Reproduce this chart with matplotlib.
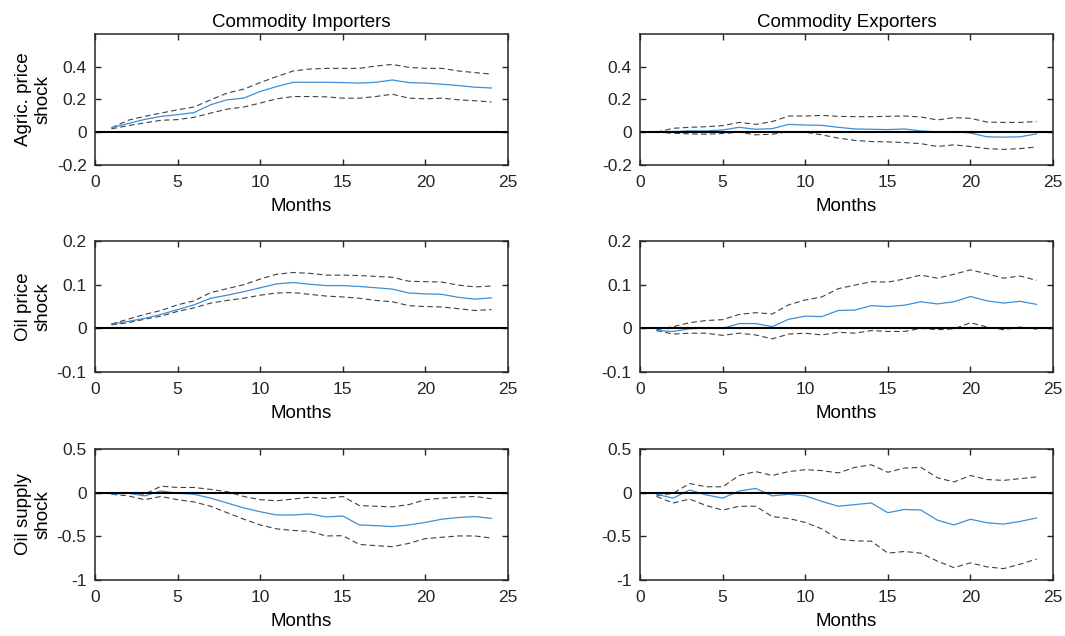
import numpy as np
import matplotlib
matplotlib.use("Agg")
from matplotlib import pyplot as plt

plt.rcParams['font.family'] = ['Liberation Sans', 'DejaVu Sans']

months = np.arange(1, 25)

# agric price shock - importers
agr_imp_med = [0.027, 0.053, 0.078, 0.097, 0.107, 0.12, 0.168, 0.198, 0.208, 0.249, 0.279, 0.305,
               0.305, 0.305, 0.303, 0.30, 0.305, 0.319, 0.303, 0.30, 0.293, 0.285, 0.275, 0.27]
agr_imp_hi = [0.027, 0.073, 0.097, 0.117, 0.137, 0.154, 0.198, 0.239, 0.263, 0.303, 0.34, 0.374,
              0.386, 0.39, 0.39, 0.39, 0.404, 0.414, 0.396, 0.39, 0.39, 0.374, 0.364, 0.355]
agr_imp_lo = [0.021, 0.04, 0.057, 0.073, 0.077, 0.091, 0.117, 0.141, 0.154, 0.178, 0.204, 0.218,
              0.218, 0.216, 0.208, 0.208, 0.218, 0.232, 0.208, 0.204, 0.208, 0.198, 0.192, 0.185]

# agric price shock - exporters
agr_exp_med = [0.004, 0.004, 0.008, 0.008, 0.014, 0.03, 0.018, 0.022, 0.048, 0.044, 0.042, 0.03,
               0.02, 0.018, 0.016, 0.02, 0.008, 0.002, 0.004, -0.005, -0.028, -0.03, -0.028, -0.01]
agr_exp_hi = [0.0, 0.024, 0.03, 0.034, 0.04, 0.06, 0.048, 0.065, 0.099, 0.099, 0.103, 0.097,
              0.095, 0.095, 0.097, 0.099, 0.093, 0.075, 0.089, 0.085, 0.062, 0.06, 0.06, 0.065]
agr_exp_lo = [0.0, -0.006, -0.01, -0.012, -0.008, 0.0, -0.016, -0.012, 0.004, 0.0, -0.016, -0.036,
              -0.05, -0.057, -0.059, -0.063, -0.07, -0.087, -0.077, -0.087, -0.1, -0.105, -0.1, -0.09]

# oil price shock - importers
oil_imp_med = [0.0096, 0.016, 0.023, 0.032, 0.043, 0.054, 0.069, 0.076, 0.084, 0.093, 0.102, 0.105,
               0.101, 0.098, 0.098, 0.096, 0.093, 0.09, 0.081, 0.079, 0.078, 0.071, 0.067, 0.07]
oil_imp_hi = [0.01, 0.021, 0.032, 0.041, 0.054, 0.063, 0.082, 0.091, 0.10, 0.113, 0.124, 0.128,
              0.126, 0.122, 0.122, 0.121, 0.119, 0.117, 0.108, 0.107, 0.106, 0.099, 0.095, 0.097]
oil_imp_lo = [0.008, 0.013, 0.021, 0.028, 0.039, 0.047, 0.058, 0.064, 0.069, 0.076, 0.081, 0.082,
              0.078, 0.074, 0.072, 0.069, 0.064, 0.061, 0.052, 0.05, 0.049, 0.045, 0.041, 0.043]

# oil price shock - exporters
oil_exp_med = [-0.005, -0.007, -0.001, 0.001, 0.0, 0.011, 0.011, 0.004, 0.021, 0.028, 0.027, 0.041,
               0.042, 0.052, 0.05, 0.053, 0.061, 0.056, 0.061, 0.073, 0.063, 0.058, 0.062, 0.055]
oil_exp_hi = [-0.003, 0.004, 0.013, 0.018, 0.02, 0.032, 0.036, 0.033, 0.054, 0.065, 0.072, 0.091,
              0.099, 0.107, 0.106, 0.113, 0.122, 0.115, 0.124, 0.134, 0.125, 0.115, 0.12, 0.11]
oil_exp_lo = [-0.005, -0.013, -0.011, -0.011, -0.016, -0.011, -0.015, -0.024, -0.013, -0.011, -0.015, -0.009,
              -0.011, -0.005, -0.007, -0.007, 0.0, -0.003, -0.001, 0.013, 0.003, -0.003, 0.003, -0.002]

# oil supply shock - importers
sup_imp_med = [-0.019, -0.007, -0.037, 0.019, -0.007, -0.019, -0.063, -0.119, -0.174, -0.219, -0.256, -0.256,
               -0.244, -0.278, -0.267, -0.37, -0.378, -0.389, -0.37, -0.341, -0.304, -0.285, -0.274, -0.295]
sup_imp_hi = [-0.019, 0.0, -0.019, 0.074, 0.059, 0.059, 0.037, 0.011, -0.044, -0.081, -0.093, -0.074,
              -0.052, -0.067, -0.044, -0.148, -0.156, -0.163, -0.137, -0.081, -0.063, -0.052, -0.044, -0.07]
sup_imp_lo = [-0.019, -0.037, -0.081, -0.044, -0.081, -0.107, -0.156, -0.23, -0.304, -0.37, -0.415, -0.433,
              -0.444, -0.496, -0.493, -0.593, -0.607, -0.619, -0.581, -0.526, -0.511, -0.496, -0.496, -0.52]

# oil supply shock - exporters
sup_exp_med = [-0.019, -0.063, 0.03, -0.026, -0.063, 0.019, 0.048, -0.037, -0.019, -0.037, -0.1, -0.156,
               -0.137, -0.119, -0.23, -0.193, -0.2, -0.315, -0.37, -0.305, -0.345, -0.36, -0.33, -0.29]
sup_exp_hi = [-0.037, -0.007, 0.104, 0.067, 0.067, 0.196, 0.241, 0.196, 0.241, 0.263, 0.252, 0.226,
              0.289, 0.319, 0.233, 0.281, 0.289, 0.17, 0.122, 0.196, 0.15, 0.14, 0.16, 0.18]
sup_exp_lo = [-0.044, -0.119, -0.074, -0.148, -0.2, -0.156, -0.156, -0.274, -0.296, -0.341, -0.415, -0.533,
              -0.552, -0.556, -0.693, -0.674, -0.693, -0.785, -0.859, -0.804, -0.85, -0.87, -0.82, -0.76]

col_titles = ["Commodity Importers", "Commodity Exporters"]
row_labels = ["Agric. price\nshock", "Oil price\nshock", "Oil supply\nshock"]
row_ylims = [(-0.2, 0.6), (-0.1, 0.2), (-1, 0.5)]
row_yticks = [[-0.2, 0, 0.2, 0.4], [-0.1, 0, 0.1, 0.2], [-1, -0.5, 0, 0.5]]
row_yticklabels = [["-0.2", "0", "0.2", "0.4"], ["-0.1", "0", "0.1", "0.2"], ["-1", "-0.5", "0", "0.5"]]

panels = [
    [(agr_imp_med, agr_imp_hi, agr_imp_lo), (agr_exp_med, agr_exp_hi, agr_exp_lo)],
    [(oil_imp_med, oil_imp_hi, oil_imp_lo), (oil_exp_med, oil_exp_hi, oil_exp_lo)],
    [(sup_imp_med, sup_imp_hi, sup_imp_lo), (sup_exp_med, sup_exp_hi, sup_exp_lo)],
]

fig = plt.figure(figsize=(10.65, 6.36), dpi=100)
lefts = [0.0892, 0.601]
bottoms = [0.7406, 0.415, 0.0881]
w, h = 0.3878, 0.206

for r in range(3):
    for c in range(2):
        ax = fig.add_axes([lefts[c], bottoms[r], w, h])
        med, hi, lo = panels[r][c]
        ax.plot(months, hi, '--', color='#404040', lw=0.8, dashes=(5, 3))
        ax.plot(months, lo, '--', color='#404040', lw=0.8, dashes=(5, 3))
        ax.plot(months, med, '-', color='#3d8fd6', lw=0.9)
        ax.axhline(0, color='black', lw=1.5)
        ax.set_xlim(0, 25)
        ax.set_ylim(*row_ylims[r])
        ax.set_xticks([0, 5, 10, 15, 20, 25])
        ax.set_yticks(row_yticks[r])
        ax.set_yticklabels(row_yticklabels[r])
        ax.tick_params(direction='in', top=True, right=True, labelsize=12.5, length=4, width=1, colors='#262626')
        ax.tick_params(axis='x', pad=7)
        ax.tick_params(axis='y', pad=6)
        for s in ax.spines.values():
            s.set_linewidth(1.1)
            s.set_color('#262626')
        ax.set_xlabel("Months", fontsize=13.5, labelpad=6)
        if r == 0:
            ax.set_title(col_titles[c], fontsize=13.5, pad=5)
        if c == 0:
            ax.set_ylabel(row_labels[r], fontsize=13.5, labelpad=4)

fig.savefig("out.png", dpi=100)
